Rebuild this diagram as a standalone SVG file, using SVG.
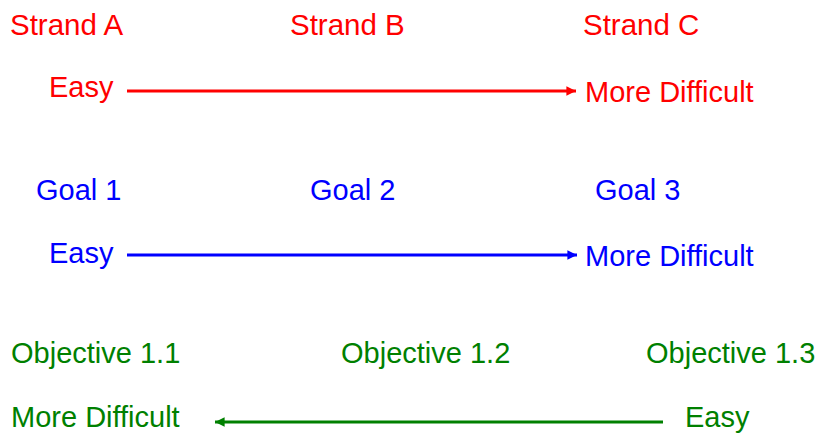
<svg xmlns="http://www.w3.org/2000/svg" width="821" height="434" viewBox="0 0 821 434">
<style>
text{font-family:"Liberation Sans",Arial,sans-serif;font-size:29px}
.r{fill:#FF0000}.b{fill:#0000FF}.g{fill:#008000}
.lr{stroke:#FF0000}.lb{stroke:#0000FF}.lg{stroke:#008000}
line{stroke-width:3}
</style>
<defs>
<marker id="ar" viewBox="0 0 10 10" refX="10" refY="5" markerWidth="4" markerHeight="3.2" markerUnits="strokeWidth" orient="auto"><path d="M0,0L10,5L0,10z" fill="#FF0000"/></marker>
<marker id="ab" viewBox="0 0 10 10" refX="10" refY="5" markerWidth="4" markerHeight="3.2" markerUnits="strokeWidth" orient="auto"><path d="M0,0L10,5L0,10z" fill="#0000FF"/></marker>
<marker id="ag" viewBox="0 0 10 10" refX="10" refY="5" markerWidth="4" markerHeight="3.2" markerUnits="strokeWidth" orient="auto"><path d="M0,0L10,5L0,10z" fill="#008000"/></marker>
</defs>
<g id="strand-a"><text class="r" x="10" y="35" style="font-size:29.5px">Strand A</text></g>
<g id="strand-b"><text class="r" x="290" y="35" style="font-size:29.5px">Strand B</text></g>
<g id="strand-c"><text class="r" x="583" y="35" style="font-size:29.5px">Strand C</text></g>
<g id="red-easy"><text class="r" x="49" y="97">Easy</text></g>
<g id="red-difficult"><text class="r" x="585" y="102">More Difficult</text></g>
<g id="goal-1"><text class="b" x="36" y="200">Goal 1</text></g>
<g id="goal-2"><text class="b" x="310" y="200">Goal 2</text></g>
<g id="goal-3"><text class="b" x="595" y="200">Goal 3</text></g>
<g id="blue-easy"><text class="b" x="49" y="263">Easy</text></g>
<g id="blue-difficult"><text class="b" x="585" y="266">More Difficult</text></g>
<g id="objective-1-1"><text class="g" x="11" y="363">Objective 1.1</text></g>
<g id="objective-1-2"><text class="g" x="341" y="363">Objective 1.2</text></g>
<g id="objective-1-3"><text class="g" x="646" y="363">Objective 1.3</text></g>
<g id="green-difficult"><text class="g" x="11" y="427">More Difficult</text></g>
<g id="green-easy"><text class="g" x="685" y="427">Easy</text></g>
<g id="connectors">
<line class="lr" x1="127" y1="91" x2="576" y2="91" marker-end="url(#ar)"/>
<line class="lb" x1="127" y1="255" x2="577" y2="255" marker-end="url(#ab)"/>
<line class="lg" x1="663" y1="422" x2="215" y2="422" marker-end="url(#ag)"/>
</g>
</svg>
